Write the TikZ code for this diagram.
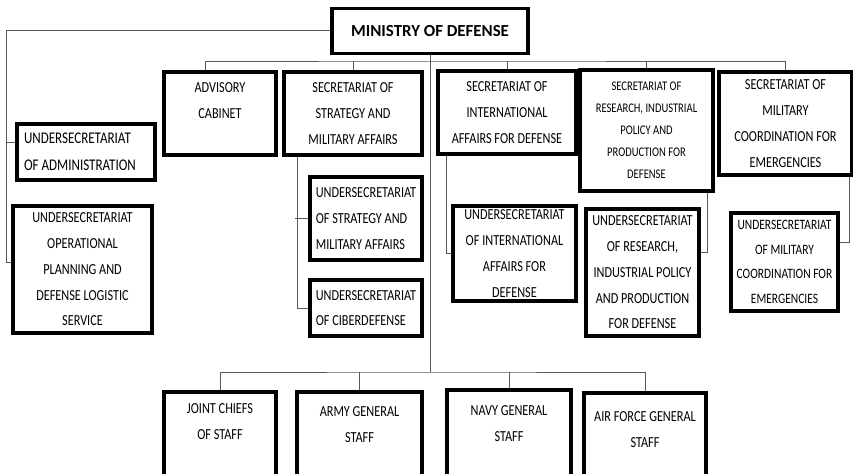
\documentclass[tikz,border=0pt]{standalone}
\usepackage{fontspec}
\setmainfont{Carlito}[FakeStretch=0.8]
\newfontfamily\titlefont{Carlito}
\usetikzlibrary{positioning}

\begin{document}
\begin{tikzpicture}[
  unit/.style={draw, line width=2.2pt, align=center, inner sep=0pt, font=\fontsize{10.9}{18.3}\selectfont},
  inside/.style={align=center, inner sep=0pt, font=\fontsize{10.9}{18.3}\selectfont},
  link/.style={draw=black!65, line width=0.6pt},
]
\useasboundingbox (0,0) rectangle (21.325,11.825);
\clip (0,0) rectangle (21.325,11.825);

% MINISTRY
\node[unit, font=\titlefont\bfseries\fontsize{12}{14}\selectfont, minimum width=4.9cm, minimum height=1.125cm] (min) at (10.75,11.06) {MINISTRY OF DEFENSE};

% SECRETARIATS
\node[unit, minimum width=2.8cm, minimum height=2.075cm] (adv) at (5.5,8.9875) {};
\node[inside, below=0.3cm of adv.north] (advtext) {ADVISORY\\CABINET};
\node[unit, minimum width=3.45cm, minimum height=2.075cm] (strat) at (8.825,8.9875) {SECRETARIAT OF\\STRATEGY AND\\MILITARY AFFAIRS};
\node[unit, minimum width=3.45cm, minimum height=2.075cm] (intl) at (12.675,9.0125) {SECRETARIAT OF\\INTERNATIONAL\\AFFAIRS FOR DEFENSE};
\node[unit, font=\fontsize{9.4}{15.6}\selectfont, minimum width=3.325cm, minimum height=3.025cm] (res) at (16.1625,8.5625) {SECRETARIAT OF\\RESEARCH, INDUSTRIAL\\POLICY AND\\PRODUCTION FOR\\DEFENSE};
\node[unit, minimum width=3.325cm, minimum height=2.575cm] (emer) at (19.6375,8.7375) {SECRETARIAT OF\\MILITARY\\COORDINATION FOR\\EMERGENCIES};

% UNDERSECRETARIATS
\node[unit, align=flush left, text width=3.1cm, font=\fontsize{11.6}{19}\selectfont, minimum width=3.45cm, minimum height=1.4cm] (adm) at (2.15,8.025) {UNDERSECRETARIAT\\OF ADMINISTRATION};
\node[unit, minimum width=3.475cm, minimum height=3.175cm] (ops) at (2.0625,5.0875) {UNDERSECRETARIAT\\OPERATIONAL\\PLANNING AND\\DEFENSE LOGISTIC\\SERVICE};
\node[unit, align=flush left, minimum width=2.8cm, minimum height=2.075cm] (ustrat) at (9.15,6.3625) {UNDERSECRETARIAT\\OF STRATEGY AND\\MILITARY AFFAIRS};
\node[unit, align=flush left, minimum width=2.8cm, minimum height=1.4cm] (ciber) at (9.15,4.125) {UNDERSECRETARIAT\\OF CIBERDEFENSE};
\node[unit, minimum width=3.075cm, minimum height=2.375cm] (uintl) at (12.8625,5.4875) {UNDERSECRETARIAT\\OF INTERNATIONAL\\AFFAIRS FOR\\DEFENSE};
\node[unit, minimum width=2.825cm, minimum height=3.175cm] (ures) at (16.0625,5.0125) {UNDERSECRETARIAT\\OF RESEARCH,\\INDUSTRIAL POLICY\\AND PRODUCTION\\FOR DEFENSE};
\node[unit, font=\fontsize{10.2}{17.6}\selectfont, minimum width=2.675cm, minimum height=2.45cm] (uemer) at (19.6125,5.275) {UNDERSECRETARIAT\\OF MILITARY\\COORDINATION FOR\\EMERGENCIES};

% GENERAL STAFFS
\node[unit, minimum width=2.8cm, minimum height=2.7cm] (joint) at (5.5,0.675) {};
\node[inside, below=0.32cm of joint.north] (jointtext) {JOINT CHIEFS\\OF STAFF};
\node[unit, minimum width=3.125cm, minimum height=2.7cm] (army) at (8.9875,0.675) {};
\node[inside, below=0.39cm of army.north] (armytext) {ARMY GENERAL\\STAFF};
\node[unit, minimum width=3.1cm, minimum height=2.75cm] (navy) at (12.725,0.7) {};
\node[inside, below=0.42cm of navy.north] (navytext) {NAVY GENERAL\\STAFF};
\node[unit, minimum width=3.05cm, minimum height=2.675cm] (air) at (16.125,0.6625) {};
\node[inside, below=0.49cm of air.north] (airtext) {AIR FORCE GENERAL\\STAFF};

% connectors
\coordinate (tbus) at (10.75,10.3);
\coordinate (bbus) at (10.75,2.525);
\coordinate (ladm) at (0.15,8.275);
\coordinate (lops) at (0.15,5.275);

\draw[link] (min.west) -| (lops) -- (lops -| ops.west);
\draw[link] (ladm) -- (ladm -| adm.west);
\draw[link] (min.south) -- (bbus);
\draw[link] ([xshift=-0.375cm]adv.north) |- (tbus) -| (emer.north);
\draw[link] (strat.north) -- (strat.north |- tbus);
\draw[link] (intl.north) -- (intl.north |- tbus);
\draw[link] (res.north) -- (res.north |- tbus);
\draw[link] (joint.north) |- (bbus) -| (air.north);
\draw[link] (army.north) -- (army.north |- bbus);
\draw[link] (navy.north) -- (navy.north |- bbus);

\draw[link] ([xshift=-1.4cm]strat.south) |- (ciber.west);
\draw[link] (ustrat.west) -- ++(-0.325,0);
\draw[link] ([xshift=-1.525cm]intl.south) |- (uintl.west);
\draw[link] ([xshift=1.5125cm]res.south) |- ([yshift=0.49cm]ures.east);
\draw[link] ([xshift=1.5875cm]emer.south) |- ([yshift=0.5cm]uemer.east);
\end{tikzpicture}
\end{document}
